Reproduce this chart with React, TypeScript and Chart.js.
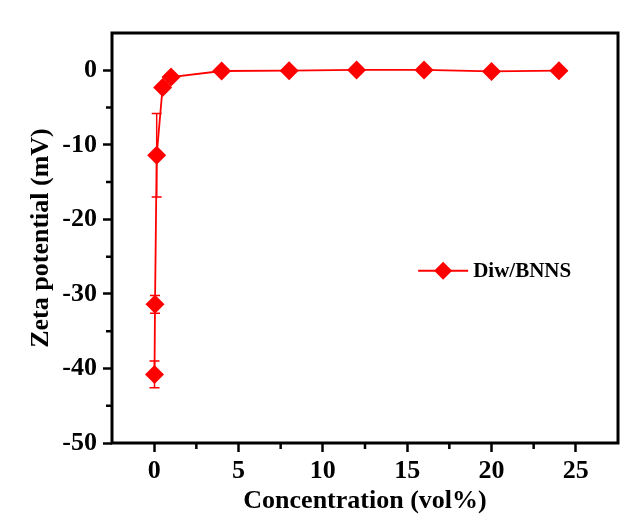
import React, { useEffect, useRef } from "react";
import { Chart, registerables } from "chart.js";

Chart.register(...registerables);

const seriesLabel = "Diw/BNNS";
const concentration = [0.02, 0.05, 0.15, 0.5, 1, 4, 8, 12, 16, 20, 24];
const zeta = [-40.8, -31.4, -11.4, -2.3, -0.9, -0.1, -0.05, 0.05, 0.05, -0.15, -0.05];
const zetaErr = [1.8, 1.2, 5.6, 0, 0, 0, 0, 0, 0, 0, 0];
const xMajorTicks = [0, 5, 10, 15, 20, 25];
const xMinorTicks = [2.5, 7.5, 12.5, 17.5, 22.5];
const yMajorTicks = [-50, -40, -30, -20, -10, 0];
const yMinorTicks = [-45, -35, -25, -15, -5];

const FONT = "'Times New Roman', 'Liberation Serif', serif";
const RED = "#ff0000";

const bgPlugin = {
  id: "bg",
  beforeDraw(chart: any) {
    const { ctx, width, height } = chart;
    ctx.save();
    ctx.fillStyle = "#ffffff";
    ctx.fillRect(0, 0, width, height);
    ctx.restore();
  },
};

const errorBarPlugin = {
  id: "errorBars",
  beforeDatasetsDraw(chart: any) {
    const { ctx } = chart;
    const xs = chart.scales.x;
    const ys = chart.scales.y;
    ctx.save();
    ctx.strokeStyle = RED;
    ctx.lineWidth = 1.5;
    concentration.forEach((xv, i) => {
      const e = zetaErr[i];
      if (!e) return;
      const px = xs.getPixelForValue(xv);
      const top = ys.getPixelForValue(zeta[i] + e);
      const bot = ys.getPixelForValue(zeta[i] - e);
      ctx.beginPath();
      ctx.moveTo(px, top);
      ctx.lineTo(px, bot);
      ctx.moveTo(px - 5, top);
      ctx.lineTo(px + 5, top);
      ctx.moveTo(px - 5, bot);
      ctx.lineTo(px + 5, bot);
      ctx.stroke();
    });
    ctx.restore();
  },
};

const framePlugin = {
  id: "frame",
  afterDraw(chart: any) {
    const { ctx, chartArea } = chart;
    const { left, right, top, bottom } = chartArea;
    const xs = chart.scales.x;
    const ys = chart.scales.y;
    ctx.save();
    ctx.strokeStyle = "#000";
    ctx.lineWidth = 3;
    ctx.strokeRect(left, top, right - left, bottom - top);
    ctx.lineWidth = 2.5;
    ctx.beginPath();
    xMinorTicks.forEach((v) => {
      const px = xs.getPixelForValue(v);
      ctx.moveTo(px, bottom);
      ctx.lineTo(px, bottom + 6);
    });
    yMinorTicks.forEach((v) => {
      const py = ys.getPixelForValue(v);
      ctx.moveTo(left, py);
      ctx.lineTo(left - 6, py);
    });
    ctx.stroke();
    ctx.restore();
  },
};

const legendPlugin = {
  id: "customLegend",
  afterDraw(chart: any) {
    const { ctx, chartArea } = chart;
    const w = chartArea.right - chartArea.left;
    const h = chartArea.bottom - chartArea.top;
    const x0 = chartArea.left + w * 0.605;
    const y0 = chartArea.top + h * 0.58;
    ctx.save();
    ctx.strokeStyle = RED;
    ctx.lineWidth = 2;
    ctx.beginPath();
    ctx.moveTo(x0, y0);
    ctx.lineTo(x0 + 50, y0);
    ctx.stroke();
    const cx = x0 + 25;
    const r = 9;
    ctx.fillStyle = RED;
    ctx.beginPath();
    ctx.moveTo(cx, y0 - r);
    ctx.lineTo(cx + r, y0);
    ctx.lineTo(cx, y0 + r);
    ctx.lineTo(cx - r, y0);
    ctx.closePath();
    ctx.fill();
    ctx.fillStyle = "#000";
    ctx.font = `bold 21px ${FONT}`;
    ctx.textBaseline = "middle";
    ctx.textAlign = "left";
    ctx.fillText(seriesLabel, x0 + 55, y0 + 1);
    ctx.restore();
  },
};

export default function App() {
  const ref = useRef<HTMLCanvasElement | null>(null);

  useEffect(() => {
    document.body.style.margin = "0";
    const canvas = ref.current;
    if (!canvas) return;
    const chart = new Chart(canvas, {
      type: "line",
      data: {
        datasets: [
          {
            label: seriesLabel,
            data: concentration.map((x, i) => ({ x, y: zeta[i] })),
            borderColor: RED,
            backgroundColor: RED,
            borderWidth: 1.8,
            pointStyle: "rectRot",
            pointRadius: 9.5,
            pointHoverRadius: 9.5,
            pointBorderWidth: 0,
            pointBackgroundColor: RED,
            tension: 0,
          },
        ],
      },
      options: {
        animation: false,
        responsive: true,
        maintainAspectRatio: false,
        layout: { padding: { left: 0, right: 23, top: 33, bottom: 0 } },
        plugins: {
          legend: { display: false },
          tooltip: { enabled: false },
        },
        scales: {
          x: {
            type: "linear",
            min: -2.5,
            max: 27.5,
            afterBuildTicks: (s: any) => {
              s.ticks = xMajorTicks.map((v) => ({ value: v }));
            },
            afterFit: (s: any) => {
              s.height = 88;
            },
            grid: {
              display: true,
              drawOnChartArea: false,
              drawTicks: true,
              tickLength: 9,
              tickWidth: 2.5,
              tickColor: "#000",
            },
            border: { display: false },
            ticks: {
              color: "#000",
              padding: 4,
              font: { family: FONT, size: 26, weight: "bold" },
              maxRotation: 0,
            },
            title: {
              display: true,
              text: "Concentration (vol%)",
              color: "#000",
              font: { family: FONT, size: 26, weight: "bold" },
              padding: { top: 0, bottom: 14 },
            },
          },
          y: {
            type: "linear",
            min: -50,
            max: 5,
            afterBuildTicks: (s: any) => {
              s.ticks = yMajorTicks.map((v) => ({ value: v }));
            },
            afterFit: (s: any) => {
              s.width = 112;
            },
            grid: {
              display: true,
              drawOnChartArea: false,
              drawTicks: true,
              tickLength: 9,
              tickWidth: 2.5,
              tickColor: "#000",
            },
            border: { display: false },
            ticks: {
              color: "#000",
              padding: 6,
              font: { family: FONT, size: 26, weight: "bold" },
            },
            title: {
              display: true,
              text: "Zeta potential (mV)",
              color: "#000",
              font: { family: FONT, size: 26, weight: "bold" },
              padding: { top: 26, bottom: 0 },
            },
          },
        },
      },
      plugins: [bgPlugin, errorBarPlugin, framePlugin, legendPlugin],
    } as any);
    return () => chart.destroy();
  }, []);

  return (
    <div style={{ position: "absolute", left: 0, top: 0, width: 641, height: 531 }}>
      <canvas ref={ref} />
    </div>
  );
}
